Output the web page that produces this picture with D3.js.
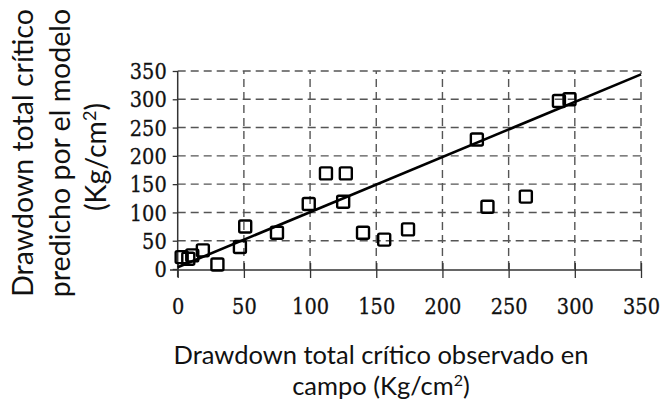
<!DOCTYPE html>
<html><head><meta charset="utf-8">
<script src="https://cdn.jsdelivr.net/npm/d3@7"></script>
<style>body{margin:0;background:#fff}svg{display:block}
.tt{font-family:Lato,"Open Sans",sans-serif;fill:#111}
</style>
</head><body>
<svg id="c" width="662" height="405"></svg>
<script>
const xTicks = [0,50,100,150,200,250,300,350];
const yTicks = [0,50,100,150,200,250,300,350];
const observed = [3,8,11,19,30,47,51,75,99,112,127,125,140,156,174,226,234,263,288,296];
const predicted = [21,18,24,33,8,39,75,64,115,169,169,119,64,52,70,229,110,128,297,300];
const fitLine = [[0,3],[350,344]];

const svg = d3.select("#c");
const x = d3.scaleLinear().domain([0,350]).range([177.7,641]);
const y = d3.scaleLinear().domain([0,350]).range([269,71]);

// grid
const grid = svg.append("g").attr("stroke","#555").attr("stroke-width",1.4).attr("stroke-dasharray","8,5");
grid.selectAll(".h").data(yTicks.filter(d=>d>0)).enter().append("line")
  .attr("x1",x(0)).attr("x2",x(350)).attr("y1",d=>y(d)).attr("y2",d=>y(d));
grid.selectAll(".v").data(xTicks.filter(d=>d>0)).enter().append("line")
  .attr("y1",y(0)).attr("y2",y(350)).attr("x1",d=>x(d)).attr("x2",d=>x(d));

// axes
const sx = 0.88;
const yAxis = d3.axisLeft(y).tickValues(yTicks).tickSize(5).tickPadding(6);
const xAxis = d3.axisBottom(x).tickValues(xTicks).tickSize(8).tickPadding(20);
const gy = svg.append("g").attr("transform",`translate(${x(0)},0)`).call(yAxis);
const gx = svg.append("g").attr("transform",`translate(0,${y(0)+1})`).call(xAxis);
[gx,gy].forEach(g=>{
  g.attr("font-family","DejaVu Serif").attr("font-size",22);
  g.select(".domain").remove();
  g.selectAll(".tick line").attr("stroke","#333").attr("stroke-width",1.3);
  g.selectAll("text").attr("font-family","DejaVu Serif").attr("font-size",22)
    .attr("fill","#111").attr("stroke","#111").attr("stroke-width",0.3)
    .attr("transform",`scale(${sx},1)`);
});
gx.selectAll(".tick line").attr("y1",-7);
gy.selectAll("text").attr("dy","0.35em").attr("x",-11/sx);
svg.append("line").attr("x1",x(0)).attr("x2",x(0)).attr("y1",y(350)).attr("y2",277).attr("stroke","#333").attr("stroke-width",1.5);
svg.append("line").attr("x1",170).attr("x2",x(350)).attr("y1",y(0)+1).attr("y2",y(0)+1).attr("stroke","#333").attr("stroke-width",1.5);

// fit line
svg.append("path").datum(fitLine)
  .attr("d",d3.line().x(d=>x(d[0])).y(d=>y(d[1])))
  .attr("stroke","#000").attr("stroke-width",2.6).attr("fill","none");

// points
const s = 12;
svg.selectAll(".pt").data(observed.map((o,i)=>[o,predicted[i]])).enter().append("rect")
  .attr("x",d=>x(d[0])-s/2).attr("y",d=>y(d[1])-s/2).attr("width",s).attr("height",s)
  .attr("fill","none").attr("stroke","#000").attr("stroke-width",2.4).attr("rx",1.5);

// titles
svg.append("text").attr("class","tt").attr("x",381).attr("y",364).attr("text-anchor","middle")
  .attr("font-size",25.5).text("Drawdown total crítico observado en");
const t2 = svg.append("text").attr("class","tt").attr("x",381).attr("y",395).attr("text-anchor","middle")
  .attr("font-size",25.5);
t2.append("tspan").text("campo (Kg/cm");
t2.append("tspan").attr("font-size",16).attr("dy",-9).text("2");
t2.append("tspan").attr("dy",9).text(")");

const yl = [["Drawdown total crítico",33],["predicho por el modelo",70]];
yl.forEach(([t,bx])=>{
  svg.append("text").attr("class","tt").attr("transform",`translate(${bx},153) rotate(-90)`).attr("text-anchor","middle")
    .attr("font-size",28.5).text(t);
});
const y3 = svg.append("text").attr("class","tt").attr("transform",`translate(106,157) rotate(-90)`).attr("text-anchor","middle")
  .attr("font-size",28.5);
y3.append("tspan").text("(Kg/cm");
y3.append("tspan").attr("font-size",18).attr("dy",-10).text("2");
y3.append("tspan").attr("dy",10).text(")");
</script>
</body></html>
